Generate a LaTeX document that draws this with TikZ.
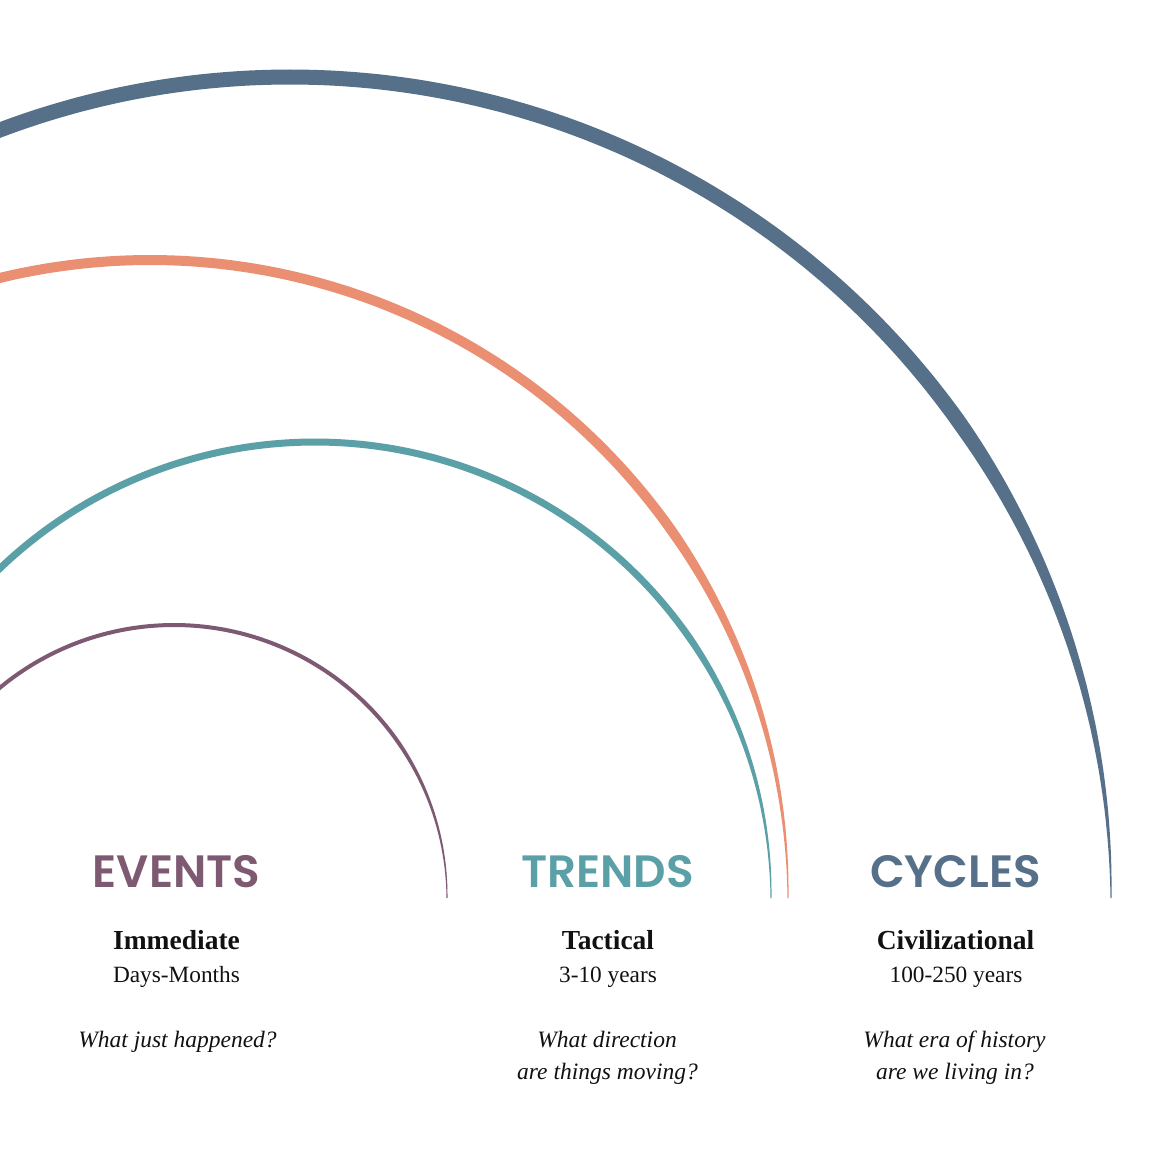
\documentclass[tikz,border=0pt]{standalone}
\usepackage{fontspec}
\setmainfont{Liberation Serif}
\newfontfamily\popfont{Poppins}[UprightFont={* SemiBold}]
\definecolor{evpurple}{HTML}{7E5A72}
\definecolor{trteal}{HTML}{5BA0A7}
\definecolor{arcorange}{HTML}{EB8F72}
\definecolor{cyblue}{HTML}{56708A}
\definecolor{txt}{HTML}{111111}
\tikzset{
  headtxt/.style={font={\popfont\fontsize{45.3}{50}\selectfont}, anchor=base, inner sep=0pt},
  boldtxt/.style={font={\bfseries\fontsize{27.5}{33}\selectfont}, text=txt, anchor=base, inner sep=0pt},
  plaintxt/.style={font={\fontsize{23.3}{28}\selectfont}, text=txt, anchor=base, inner sep=0pt},
  itxt/.style={font={\itshape\fontsize{23.5}{28}\selectfont}, text=txt, anchor=base, inner sep=0pt}
}
\begin{document}
\begin{tikzpicture}[x=1pt,y=-1pt]
\useasboundingbox (0,0) rectangle (1153,1153);
\begin{scope}
\clip (0,0) rectangle (1153,1153);
\foreach \C/\R/\W/\col in {290/821/15/cyblue, 150/638/10/arcorange, 315/456/7/trteal, 174/273/4/evpurple}{
  \fill[\col] plot[domain=0:180, samples=241, smooth]
     ({\C+(\R+0.5*min(\W,1+(\W-1)*\x/35))*cos(\x)},{898-(\R+0.5*min(\W,1+(\W-1)*\x/35))*sin(\x)})
   -- plot[domain=180:0, samples=241, smooth]
     ({\C+(\R-0.5*min(\W,1+(\W-1)*\x/35))*cos(\x)},{898-(\R-0.5*min(\W,1+(\W-1)*\x/35))*sin(\x)})
   -- cycle;
}
\end{scope}
% EVENTS column
\node[headtxt, text=evpurple] (evh) at (176.5,887) {EVENTS};
\node[boldtxt] (evb) at (176.5,949) {Immediate};
\node[plaintxt] (evp) at (176.5,982) {Days-Months};
\node[itxt] (evq) at (177.5,1047) {What just happened?};
% TRENDS column
\node[headtxt, text=trteal] (trh) at (607.5,887) {TRENDS};
\node[boldtxt] (trb) at (608,949) {Tactical};
\node[plaintxt] (trp) at (608,982) {3-10 years};
\node[itxt] (trq1) at (607,1047) {What direction};
\node[itxt] (trq2) at (607.5,1079) {are things moving?};
% CYCLES column
\node[headtxt, text=cyblue] (cyh) at (955.5,887) {CYCLES};
\node[boldtxt] (cyb) at (955.5,949) {Civilizational};
\node[plaintxt] (cyp) at (956,982) {100-250 years};
\node[itxt] (cyq1) at (954.5,1047) {What era of history};
\node[itxt] (cyq2) at (955,1079) {are we living in?};
\end{tikzpicture}
\end{document}
